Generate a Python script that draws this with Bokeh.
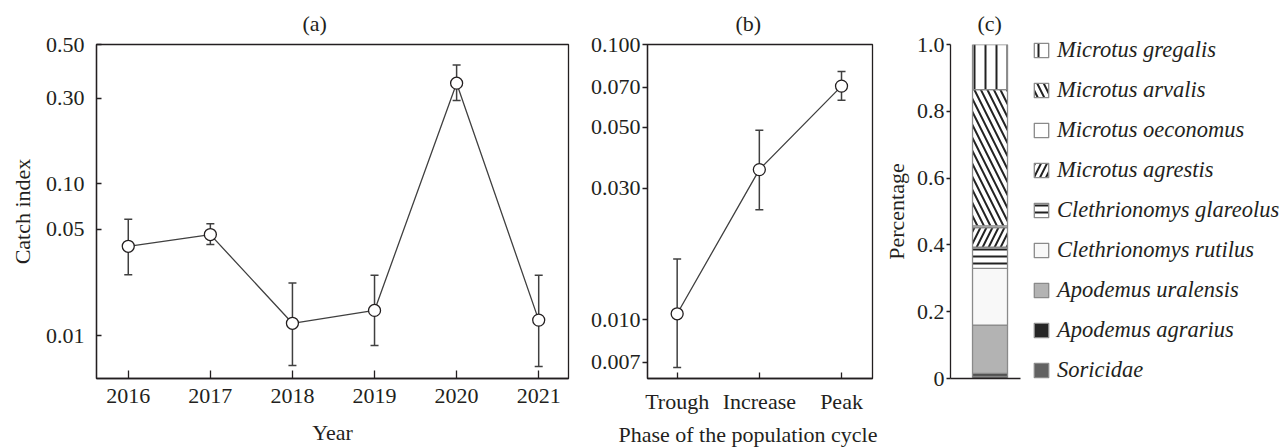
import numpy as np
from bokeh.plotting import figure
from bokeh.models import (ColumnDataSource, Range1d, FixedTicker, Whisker, TeeHead,
                          Legend, LegendItem, Title)
from bokeh.layouts import row
from bokeh.embed import file_html
from bokeh.resources import INLINE

# ---------------- data ----------------
years = [2016, 2017, 2018, 2019, 2020, 2021]
catch_index = [0.0387, 0.0462, 0.0121, 0.0147, 0.346, 0.0127]
catch_upper = [0.0582, 0.0545, 0.0222, 0.0250, 0.411, 0.0250]
catch_lower = [0.0252, 0.0397, 0.0064, 0.00865, 0.291, 0.0063]
catch_ticks = [0.01, 0.05, 0.10, 0.30, 0.50]
catch_tick_labels = ["0.01", "0.05", "0.10", "0.30", "0.50"]

phases = ["Trough", "Increase", "Peak"]
phase_index = [0.0105, 0.0351, 0.0706]
phase_upper = [0.0166, 0.0488, 0.0798]
phase_lower = [0.0067, 0.0251, 0.0627]
phase_ticks = [0.007, 0.010, 0.030, 0.050, 0.070, 0.100]
phase_tick_labels = ["0.007", "0.010", "0.030", "0.050", "0.070", "0.100"]

species = ["Soricidae", "Apodemus agrarius", "Apodemus uralensis", "Clethrionomys rutilus",
           "Clethrionomys glareolus", "Microtus agrestis", "Microtus oeconomus",
           "Microtus arvalis", "Microtus gregalis"]          # bottom -> top
shares = [0.007, 0.008, 0.145, 0.170, 0.063, 0.059, 0.005, 0.408, 0.135]
pct_ticks = [0, 0.2, 0.4, 0.6, 0.8, 1.0]
pct_tick_labels = ["0", "0.2", "0.4", "0.6", "0.8", "1.0"]

# ---------------- styles ----------------
FONT = "Liberation Serif"
FS = "22px"
INK = "#231f20"
LINE = "#404040"

# panel (a) uses an irregular log-like axis: tick heights (px above frame bottom)
A_TICK_POS = [42.6, 149.3, 195.0, 280.6, 334.3]
A_TOP = 334.3


def a_axis(v):
    lv = np.log10(np.asarray(v, dtype=float))
    lt = np.log10(catch_ticks)
    inside = np.interp(lv, lt, A_TICK_POS)
    slope = (A_TICK_POS[1] - A_TICK_POS[0]) / (lt[1] - lt[0])
    return np.where(lv < lt[0], A_TICK_POS[0] + slope * (lv - lt[0]), inside)


def style_axis(ax):
    ax.axis_label_text_font = FONT
    ax.axis_label_text_font_size = FS
    ax.axis_label_text_font_style = "normal"
    ax.axis_label_text_color = INK
    ax.major_label_text_font = FONT
    ax.major_label_text_font_size = FS
    ax.major_label_text_color = INK
    ax.axis_line_color = INK
    ax.axis_line_width = 1.3
    ax.major_tick_line_color = INK
    ax.major_tick_line_width = 1.3
    ax.minor_tick_line_color = None


def style_fig(p, title_offset):
    p.xgrid.visible = False
    p.ygrid.visible = False
    p.title.align = "left"
    p.title.offset = title_offset
    p.title.standoff = 17
    p.title.text_font = FONT
    p.title.text_font_size = FS
    p.title.text_font_style = "normal"
    p.title.text_color = INK
    p.background_fill_color = "white"
    p.border_fill_color = "white"
    for ax in p.xaxis + p.yaxis:
        style_axis(ax)


common = dict(frame_height=334, min_border_top=36, min_border_bottom=68,
              output_backend="svg", toolbar_location=None)

# ---------------- panel (a) ----------------
pA = figure(frame_width=472, min_border_left=96, min_border_right=7,
            x_range=Range1d(2015.613, 2021.363), y_range=Range1d(0, A_TOP),
            title="(a)", **common)
style_fig(pA, 206)
pA.outline_line_color = INK
pA.outline_line_width = 1.3
pA.outline_line_alpha = 1.0

srcA = ColumnDataSource(dict(x=years, y=a_axis(catch_index),
                             up=a_axis(catch_upper), lo=a_axis(catch_lower)))
pA.add_layout(Whisker(source=srcA, base="x", upper="up", lower="lo",
                      line_color=LINE, line_width=1.5,
                      upper_head=TeeHead(size=8, line_color=LINE, line_width=1.5),
                      lower_head=TeeHead(size=8, line_color=LINE, line_width=1.5)))
pA.line("x", "y", source=srcA, line_color=LINE, line_width=1.3)
pA.scatter("x", "y", source=srcA, size=12, fill_color="white",
           line_color=INK, line_width=1.3)

pA.xaxis.ticker = FixedTicker(ticks=years)
pA.xaxis.major_label_overrides = {y: str(y) for y in years}
pA.xaxis.major_tick_in = 8
pA.xaxis.major_tick_out = 0
pA.xaxis.major_label_standoff = 10
pA.xaxis.axis_label = "Year"
pA.xaxis.axis_label_standoff = 14

pA.yaxis.ticker = FixedTicker(ticks=A_TICK_POS)
pA.yaxis.major_label_overrides = dict(zip(A_TICK_POS, catch_tick_labels))
pA.yaxis.major_tick_in = 5
pA.yaxis.major_tick_out = 0
pA.yaxis.major_label_standoff = 12
pA.yaxis.axis_label = "Catch index"
pA.yaxis.axis_label_standoff = 8

# ---------------- panel (b) ----------------
pB = figure(frame_width=225, min_border_left=72, min_border_right=8,
            x_range=Range1d(-0.361, 2.377), y_range=Range1d(0.00611, 0.1),
            y_axis_type="log", title="(b)", **common)
style_fig(pB, 88)
pB.outline_line_color = INK
pB.outline_line_width = 1.3
pB.outline_line_alpha = 1.0

xB = list(range(len(phases)))
srcB = ColumnDataSource(dict(x=xB, y=phase_index, up=phase_upper, lo=phase_lower))
pB.add_layout(Whisker(source=srcB, base="x", upper="up", lower="lo",
                      line_color=LINE, line_width=1.5,
                      upper_head=TeeHead(size=8, line_color=LINE, line_width=1.5),
                      lower_head=TeeHead(size=8, line_color=LINE, line_width=1.5)))
pB.line("x", "y", source=srcB, line_color=LINE, line_width=1.3)
pB.scatter("x", "y", source=srcB, size=12, fill_color="white",
           line_color=INK, line_width=1.3)

pB.xaxis.ticker = FixedTicker(ticks=xB)
pB.xaxis.major_label_overrides = dict(zip(xB, phases))
pB.xaxis.major_tick_in = 6
pB.xaxis.major_tick_out = 0
pB.xaxis.major_label_standoff = 10
# the x label of (b) is wider than its panel: right-align it to the frame edge
pB.add_layout(Title(text="Phase of the population cycle", align="right", offset=-5,
                    standoff=6, text_font=FONT, text_font_size=FS,
                    text_font_style="normal", text_color=INK), "below")

pB.yaxis.ticker = FixedTicker(ticks=phase_ticks)
pB.yaxis.major_label_overrides = dict(zip(phase_ticks, phase_tick_labels))
pB.yaxis.major_tick_in = 0
pB.yaxis.major_tick_out = 5
pB.yaxis.major_label_standoff = 2

# ---------------- panel (c) ----------------
pC = figure(frame_width=70, min_border_left=68, min_border_right=264,
            x_range=Range1d(-1.129, 0.871), y_range=Range1d(0, 1.0),
            title="(c)", **common)
style_fig(pC, 27)
pC.outline_line_color = None

fills = ["#626262", "#262626", "#b3b3b3", "#f8f8f8", "white", "white", "white", "white", "white"]
hatches = [" ", " ", " ", " ", "-", "/", " ", "\\", "|"]
hscales = [12, 12, 12, 12, 7, 12, 12, 13, 11]
srcC = ColumnDataSource(dict(x=[0], **{s: [v] for s, v in zip(species, shares)}))
rends = pC.vbar_stack(species, x="x", width=1.0, source=srcC,
                      fill_color=fills, hatch_pattern=hatches, hatch_scale=hscales,
                      hatch_color="#222222", hatch_weight=2,
                      line_color="#8a8a8a", line_width=1.3)

pC.yaxis.ticker = FixedTicker(ticks=pct_ticks)
pC.yaxis.major_label_overrides = dict(zip(pct_ticks, pct_tick_labels))
pC.yaxis.major_tick_in = 0
pC.yaxis.major_tick_out = 4
pC.yaxis.major_label_standoff = 2
pC.yaxis.axis_label = "Percentage"
pC.yaxis.axis_label_standoff = 5
pC.xaxis.ticker = FixedTicker(ticks=[])
pC.xaxis.major_tick_line_color = None

items = [LegendItem(label=s, renderers=[r]) for s, r in zip(species[::-1], rends[::-1])]
legend = Legend(items=items, location=(12, -5), glyph_width=18, glyph_height=18,
                label_standoff=7, spacing=14, padding=0, margin=0,
                border_line_color=None, background_fill_alpha=0,
                label_text_font=FONT, label_text_font_size="22.5px",
                label_text_font_style="italic", label_text_color=INK)
pC.add_layout(legend, "right")

layout = row(pA, pB, pC, spacing=0)
open("out.html", "w").write(file_html(layout, INLINE))
